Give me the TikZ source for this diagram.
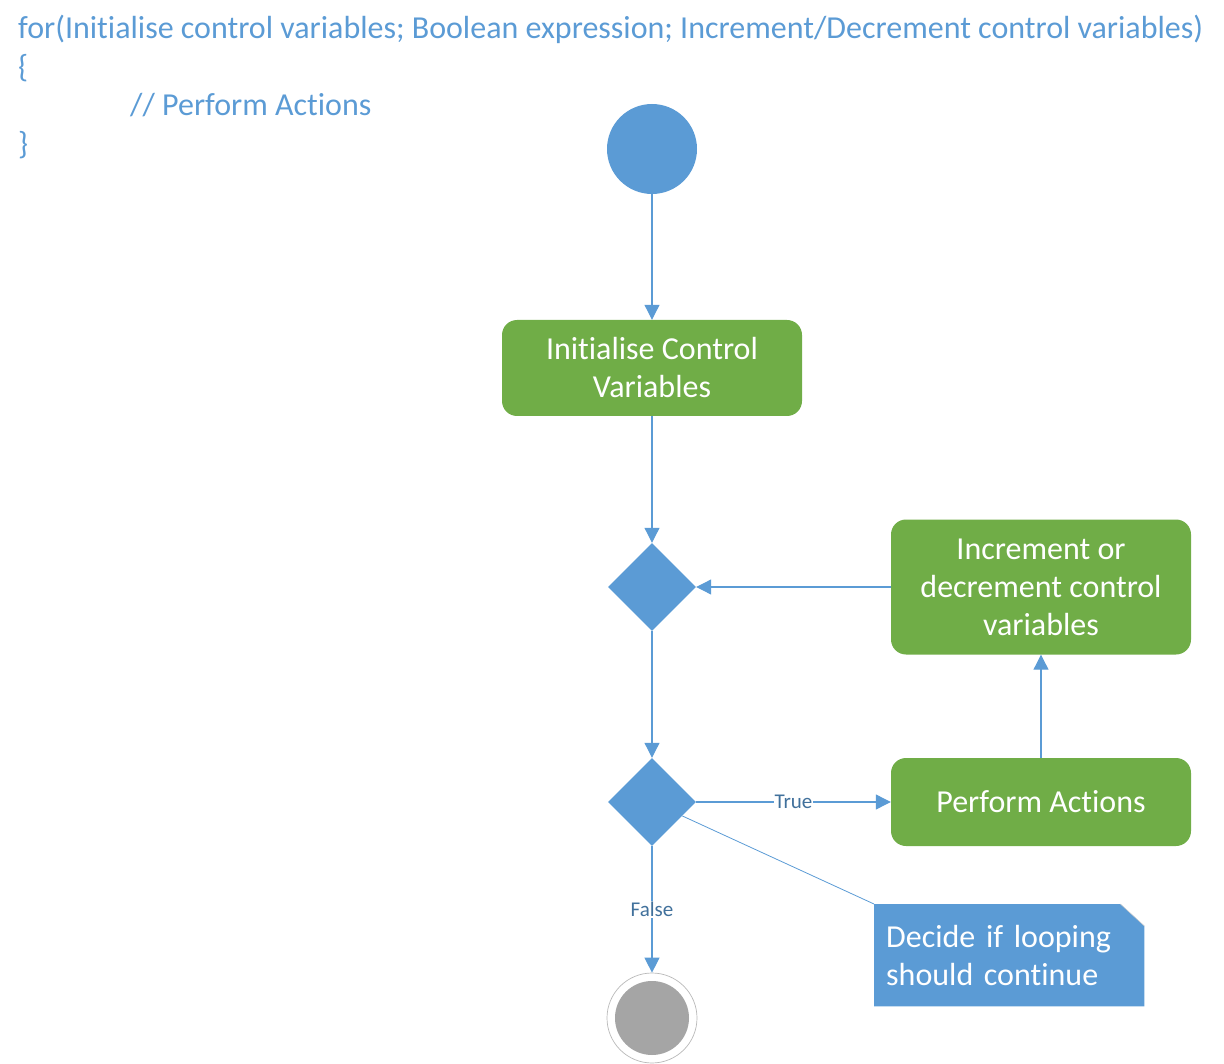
\documentclass[tikz,border=0pt]{standalone}
\usepackage{fontspec}
\setmainfont{Carlito}[Ligatures=NoCommon]
\usetikzlibrary{shapes.geometric, arrows.meta, backgrounds}

\definecolor{umlblue}{HTML}{5B9BD5}
\definecolor{umlgreen}{HTML}{70AD47}
\definecolor{umlgray}{HTML}{A5A5A5}
\definecolor{guardblue}{HTML}{41719C}

\begin{document}
\begin{tikzpicture}[x=1pt, y=-1pt,
  code/.style={anchor=base west, text=umlblue, inner sep=0pt, font=\fontsize{32}{38}\selectfont},
  action/.style={rectangle, rounded corners=15pt, fill=umlgreen, text=white, minimum width=300pt, align=center, font=\fontsize{32}{38}\selectfont},
  decision/.style={diamond, fill=umlblue, minimum width=88pt, minimum height=88pt, inner sep=0pt},
  flow/.style={draw=umlblue, line width=1.1pt, -{Triangle[length=15pt,width=15pt]}},
  guard/.style={fill=white, text=guardblue, inner sep=1pt, font=\fontsize{21}{24}\selectfont}]
  \useasboundingbox (0,0) rectangle (1224,1064);

  \node[code] (forline) at (18,39) {for(Initialise control variables; Boolean expression; Increment/Decrement control variables)};
  \node[code] (openbrace) at (18,77.5) {\{};
  \node[code] (body) at (130,116) {// Perform Actions};
  \node[code] (closebrace) at (18,154.5) {\}};

  \node[circle, fill=umlblue, minimum size=90pt] (start) at (652,149) {};
  \node[action, minimum height=96pt] (init) at (652,368) {Initialise Control\\Variables};
  \node[decision] (check) at (652,587) {};
  \node[action, minimum height=135pt] (update) at (1041,587) {Increment or\\decrement control\\variables};
  \node[decision] (test) at (652,802) {};
  \node[action, minimum height=88pt] (perform) at (1041,802) {Perform Actions};
  \node[circle, draw=gray!55, line width=0.7pt, fill=white, minimum size=90pt] (stop) at (652,1018) {};
  \node[circle, fill=umlgray, minimum size=74pt] (stopdot) at (stop) {};
  \node[anchor=north west, minimum width=270pt, minimum height=102pt, inner xsep=12pt, text width=246pt, align=left, text=white, font=\fontsize{32}{38}\selectfont] (note) at (874,904) {Decide if looping\\should continue};

  \begin{scope}[on background layer]
    \fill[umlblue] (note.north west) -- ([xshift=-24pt]note.north east) -- ([yshift=-22pt]note.north east) -- (note.south east) -- (note.south west) -- cycle;
  \end{scope}
  \draw[gray!40, line width=0.5pt] ([xshift=-24pt]note.north east) -- ([yshift=-22pt]note.north east);

  \draw[flow] (start) -- (init);
  \draw[flow] (init) -- (check);
  \draw[flow] (update.west) -- (check.east);
  \draw[flow] (check) -- (test);
  \draw[flow] (test) -- node[guard] {True} (perform);
  \draw[flow] (perform) -- (update);
  \draw[flow] (test) -- node[guard] {False} (stop);
  \draw[umlblue, line width=0.8pt] (test) -- (note.north west);
\end{tikzpicture}
\end{document}
